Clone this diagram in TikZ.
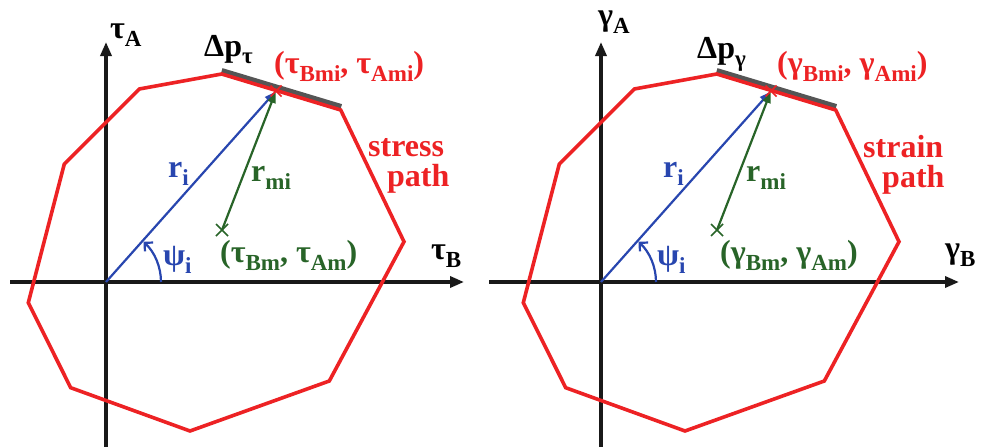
\documentclass[tikz,border=0pt]{standalone}
\usepackage{fontspec}
\setmainfont{Liberation Serif}
\usetikzlibrary{arrows.meta,calc}
\definecolor{pathred}{RGB}{237,34,36}
\definecolor{vecblue}{RGB}{40,70,175}
\definecolor{vecgreen}{RGB}{40,100,40}
\definecolor{segray}{RGB}{85,85,85}
\definecolor{axisblack}{RGB}{25,25,25}
\newcommand\mainsz{\fontsize{32}{32}\selectfont\bfseries}
\newcommand\sbx[1]{\raisebox{-8pt}{\fontsize{23}{23}\selectfont\bfseries #1}}
\newcommand\panelgeom[1]{%
  \coordinate (O) at (106,282);
  \coordinate (xl) at (#1,282);
  \coordinate (xr) at (464,282);
  \coordinate (yb) at (106,447);
  \coordinate (yt) at (106,42);
  \coordinate (p1) at (221.7,74);
  \coordinate (p2) at (340.7,110);
  \coordinate (p3) at (404,241.7);
  \coordinate (p4) at (329.3,381);
  \coordinate (p5) at (190,431);
  \coordinate (p6) at (70.7,387.7);
  \coordinate (p7) at (28.3,302.7);
  \coordinate (p8) at (64.3,164);
  \coordinate (p9) at (139.3,89);
  \coordinate (g1) at (221.5,71.5);
  \coordinate (g2) at (341,107.5);
  \coordinate (mi) at (276,91);
  \coordinate (m) at (222,230);
  \draw[axis] (xl) -- (xr);
  \draw[axis] (yb) -- (yt);
  \draw[gseg] (g1) -- (g2);
  \draw[redpath] (p1) -- (p2) -- (p3) -- (p4) -- (p5) -- (p6) -- (p7) -- (p8) -- (p9) -- cycle;
  \draw[vecb] (O) -- (mi);
  \draw[vecg] (m) -- (mi);
  \draw[anglearc] ([xshift=55pt]O) arc[start angle=0,end angle=47,radius=55pt];
  \draw[pathred, line width=1.6pt] ([shift={(-5.5pt,-5.5pt)}]mi) -- ([shift={(5.5pt,5.5pt)}]mi)
        ([shift={(-5.5pt,5.5pt)}]mi) -- ([shift={(5.5pt,-5.5pt)}]mi);
  \draw[vecgreen, line width=1.6pt] ([shift={(-6pt,-6pt)}]m) -- ([shift={(6pt,6pt)}]m)
        ([shift={(-6pt,6pt)}]m) -- ([shift={(6pt,-6pt)}]m);
}
\begin{document}
\begin{tikzpicture}[x=1pt,y=-1pt,
  axis/.style={line width=3.3pt, axisblack, -{Triangle[length=14pt,width=11pt]}},
  redpath/.style={pathred, line width=3.6pt, line join=miter},
  gseg/.style={segray, line width=7pt},
  vecb/.style={vecblue, line width=2.2pt, shorten >=1pt, -{Triangle[length=11pt,width=8pt]}},
  vecg/.style={vecgreen, line width=2.2pt, shorten >=1pt, -{Triangle[length=11pt,width=8pt]}},
  anglearc/.style={vecblue, line width=2.2pt, -{Straight Barb[length=6pt,width=12pt]}},
  lbl/.style={inner sep=0pt, font=\mainsz, anchor=base west},
  ]
\useasboundingbox (0,0) rectangle (983,447);
\fill[white] (0,0) rectangle (983,447);
\begin{scope}[name prefix=L-]
  \panelgeom{10}
\end{scope}
\begin{scope}[xshift=495pt, name prefix=R-]
  \panelgeom{-6}
\end{scope}
% left labels
\node[lbl] (tauA) at (110,38) {τ\sbx{A}};
\node[lbl] (dptau) at (204,56) {Δp\sbx{τ}};
\node[lbl, text=pathred] (taumi) at (274,73) {(τ\sbx{Bmi}, τ\sbx{Ami})};
\node[lbl, text=vecblue] (riL) at (168,177) {r\sbx{i}};
\node[lbl, text=vecgreen] (rmiL) at (251,181) {r\sbx{mi}};
\node[lbl, text=vecblue] (psiL) at (163,265) {ψ\sbx{i}};
\node[lbl, text=vecgreen] (taum) at (220,262) {(τ\sbx{Bm}, τ\sbx{Am})};
\node[lbl] (tauB) at (431,259) {τ\sbx{B}};
\node[lbl, text=pathred] (stress) at (368,156) {stress};
\node[lbl, text=pathred] (spath) at (387,186) {path};
% right labels
\node[lbl] (gamA) at (598,25) {γ\sbx{A}};
\node[lbl] (dpgam) at (697,58) {Δp\sbx{γ}};
\node[lbl, text=pathred] (gammi) at (777,73) {(γ\sbx{Bmi}, γ\sbx{Ami})};
\node[lbl, text=vecblue] (riR) at (663,177) {r\sbx{i}};
\node[lbl, text=vecgreen] (rmiR) at (746,181) {r\sbx{mi}};
\node[lbl, text=vecblue] (psiR) at (657,265) {ψ\sbx{i}};
\node[lbl, text=vecgreen] (gamm) at (720,262) {(γ\sbx{Bm}, γ\sbx{Am})};
\node[lbl] (gamB) at (945,258) {γ\sbx{B}};
\node[lbl, text=pathred] (strain) at (863,157) {strain};
\node[lbl, text=pathred] (gpath) at (882,187) {path};
\end{tikzpicture}
\end{document}
